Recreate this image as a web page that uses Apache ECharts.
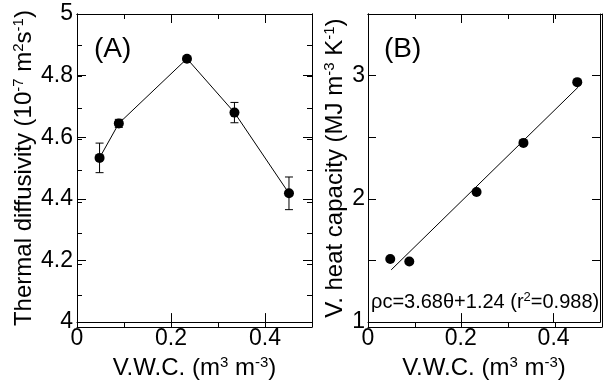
<!DOCTYPE html>
<html>
<head>
<meta charset="utf-8">
<script src="https://cdn.jsdelivr.net/npm/echarts@6/dist/echarts.min.js"></script>
<style>
  html, body { margin: 0; padding: 0; background: #fff; }
  #chart { width: 603px; height: 385px; }
</style>
</head>
<body>
<div id="chart"></div>
<script>
// volumetric water content of the samples
const vwc = [0.048, 0.089, 0.234, 0.335, 0.451];
// (A) thermal diffusivity, 10^-7 m2/s, with error
const diffusivity = [4.533, 4.645, 4.855, 4.68, 4.418];
const diffusivityErr = [0.048, 0.013, 0.004, 0.033, 0.053];
// (B) volumetric heat capacity, MJ m-3 K-1
const heatCapacity = [1.512, 1.491, 2.056, 2.454, 2.947];
// regression rho*c = 3.68*theta + 1.24
const fitSlope = 3.68;
const fitIntercept = 1.24;
const fitRange = [0.05, 0.453];

const FONT = '"Liberation Sans", Arial, sans-serif';
const black = '#000';

const gridA = { left: 77, top: 14, width: 235, height: 313 };
const gridB = { left: 368, top: 14, width: 234, height: 313 };

function sup(size) {
  return { fontSize: size, fontFamily: FONT, color: black, verticalAlign: 'top', lineHeight: size + 2 };
}
function normal(size) {
  return { fontSize: size, fontFamily: FONT, color: black, lineHeight: size + 2 };
}

function xFmt(v) {
  const r = Math.round(v * 10) / 10;
  if (r >= 0.5) return '';
  return r === 0 ? '0' : r.toFixed(1);
}

function axis(o) {
  return Object.assign({
    type: 'value',
    axisLine: { show: true, onZero: false, lineStyle: { color: black, width: 1 } },
    axisTick: { show: true, inside: true, length: 9, lineStyle: { color: black, width: 1 } },
    axisLabel: { show: false },
    splitLine: { show: false }
  }, o);
}

const minorTick = { show: true, inside: true, length: 5, lineStyle: { color: black } };
const tickLabel = { show: true, color: black, fontSize: 23, fontFamily: FONT, showMinLabel: true, showMaxLabel: true };

const xTitle = '{n|V.W.C. (m}{s|3}{n| m}{s|-3}{n|)}';
const titleStyle = { rich: { n: normal(24), s: sup(15) } };

const xAxes = [
  // A main
  axis({ gridIndex: 0, position: 'bottom', min: 0, max: 0.5, interval: 0.2,
    axisLabel: Object.assign({}, tickLabel, { margin: 5, formatter: xFmt }),
    name: xTitle, nameLocation: 'middle', nameGap: 28, nameTextStyle: titleStyle }),
  axis({ gridIndex: 0, position: 'top', min: 0, max: 0.5, interval: 0.2 }),
  // B main
  axis({ gridIndex: 1, position: 'bottom', min: 0, max: 0.5, interval: 0.2,
    axisLabel: Object.assign({}, tickLabel, { margin: 5, formatter: xFmt }),
    name: xTitle, nameLocation: 'middle', nameGap: 28, nameTextStyle: titleStyle }),
  axis({ gridIndex: 1, position: 'top', min: 0, max: 0.5, interval: 0.2 }),
  // minor ticks
  axis({ gridIndex: 2, position: 'bottom', min: 0, max: 0.5, interval: 0.1, axisTick: minorTick }),
  axis({ gridIndex: 2, position: 'top', min: 0, max: 0.5, interval: 0.1, axisTick: minorTick }),
  axis({ gridIndex: 3, position: 'bottom', min: 0, max: 0.5, interval: 0.1, axisTick: minorTick }),
  axis({ gridIndex: 3, position: 'top', min: 0, max: 0.5, interval: 0.1, axisTick: minorTick })
];

const yAxes = [
  axis({ gridIndex: 0, position: 'left', min: 4, max: 5, interval: 0.2,
    axisLabel: Object.assign({}, tickLabel, { margin: 4, formatter: v => {
      const r = Math.round(v * 10) / 10;
      return Number.isInteger(r) ? String(r) : r.toFixed(1);
    } }),
    name: '{n|Thermal diffusivity (10}{s|-7}{n| m}{s|2}{n|s}{s|-1}{n|)}',
    nameLocation: 'middle', nameGap: 40, nameTextStyle: titleStyle }),
  axis({ gridIndex: 0, position: 'right', min: 4, max: 5, interval: 0.2 }),
  axis({ gridIndex: 1, position: 'left', min: 1, max: 3.5, interval: 0.5,
    axisTick: { show: true, inside: true, length: 8, lineStyle: { color: black } },
    axisLabel: Object.assign({}, tickLabel, { margin: 3, formatter: v => (Number.isInteger(v) && v < 3.5) ? String(v) : '' }),
    name: '{n|V. heat capacity (MJ m}{s|-3}{n| K}{s|-1}{n|)}',
    nameLocation: 'middle', nameGap: 20, nameTextStyle: titleStyle }),
  axis({ gridIndex: 1, position: 'right', min: 1, max: 3.5, interval: 0.5,
    axisTick: { show: true, inside: true, length: 8, lineStyle: { color: black } } }),
  axis({ gridIndex: 2, position: 'left', min: 4, max: 5, interval: 0.1, axisTick: minorTick }),
  axis({ gridIndex: 2, position: 'right', min: 4, max: 5, interval: 0.1, axisTick: minorTick }),
  axis({ gridIndex: 3, position: 'left', min: 1, max: 3.5, interval: 0.5, axisTick: { show: false } }),
  axis({ gridIndex: 3, position: 'right', min: 1, max: 3.5, interval: 0.5, axisTick: { show: false } })
];

const errData = vwc.map((x, i) => [x, diffusivity[i] - diffusivityErr[i], diffusivity[i] + diffusivityErr[i]]);
const fitData = fitRange.map(x => [x, fitSlope * x + fitIntercept]);

const option = {
  animation: false,
  backgroundColor: '#fff',
  grid: [gridA, gridB, gridA, gridB],
  xAxis: xAxes,
  yAxis: yAxes,
  graphic: [
    { type: 'text', left: 94, top: 35, style: { text: '(A)', font: '28px ' + FONT, fill: black } },
    { type: 'text', left: 384, top: 35, style: { text: '(B)', font: '28px ' + FONT, fill: black } },
    { type: 'text', left: 371, top: 291, style: {
      text: '{n|\u03c1c=3.68\u03b8+1.24 (r}{s|2}{n|=0.988)}',
      rich: { n: normal(20), s: sup(13) }
    } }
  ],
  series: [
    {
      type: 'custom', xAxisIndex: 0, yAxisIndex: 0, z: 2,
      data: errData,
      renderItem: (params, api) => {
        const x = api.value(0);
        const lo = api.coord([x, api.value(1)]);
        const hi = api.coord([x, api.value(2)]);
        const w = 4;
        const st = { stroke: black, lineWidth: 1 };
        return { type: 'group', children: [
          { type: 'line', shape: { x1: lo[0], y1: lo[1], x2: hi[0], y2: hi[1] }, style: st },
          { type: 'line', shape: { x1: lo[0] - w, y1: lo[1], x2: lo[0] + w, y2: lo[1] }, style: st },
          { type: 'line', shape: { x1: hi[0] - w, y1: hi[1], x2: hi[0] + w, y2: hi[1] }, style: st }
        ] };
      }
    },
    {
      type: 'line', xAxisIndex: 0, yAxisIndex: 0, z: 3,
      data: vwc.map((x, i) => [x, diffusivity[i]]),
      symbol: 'circle', symbolSize: 10,
      itemStyle: { color: black, opacity: 1 },
      lineStyle: { color: black, width: 1 }
    },
    {
      type: 'line', xAxisIndex: 2, yAxisIndex: 2, z: 2,
      data: fitData, symbol: 'none',
      lineStyle: { color: black, width: 1 }
    },
    {
      type: 'scatter', xAxisIndex: 2, yAxisIndex: 2, z: 3,
      data: vwc.map((x, i) => [x, heatCapacity[i]]),
      symbol: 'circle', symbolSize: 10,
      itemStyle: { color: black, opacity: 1 }
    }
  ]
};

const chart = echarts.init(document.getElementById('chart'), null, { renderer: 'canvas' });
chart.setOption(option);
</script>
</body>
</html>
